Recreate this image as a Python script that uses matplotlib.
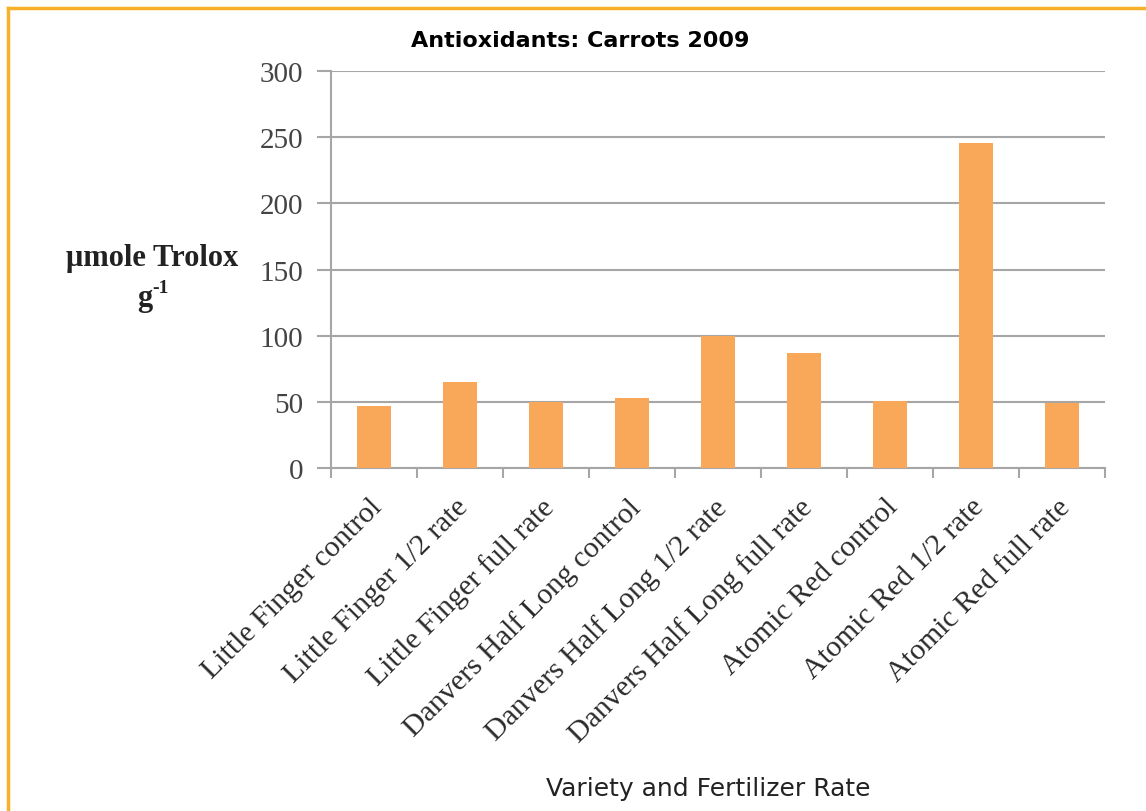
import numpy as np
import matplotlib.pyplot as plt
import matplotlib.transforms as mtransforms
from matplotlib.lines import Line2D

# data
categories = ['Little Finger control', 'Little Finger 1/2 rate', 'Little Finger full rate',
              'Danvers Half Long control', 'Danvers Half Long 1/2 rate', 'Danvers Half Long full rate',
              'Atomic Red control', 'Atomic Red 1/2 rate', 'Atomic Red full rate']
trolox = [47, 65, 50, 53, 100, 87, 51, 246, 49]
yticks = [0, 50, 100, 150, 200, 250, 300]

bar_color = '#F9A85A'
grid_color = '#A6A6A6'

fig = plt.figure(figsize=(11.46, 8.12), dpi=100)
ax = fig.add_axes([0.2888, 0.422, 0.6754, 0.4893])

x = np.arange(len(categories))
ax.bar(x, trolox, width=0.4, color=bar_color, zorder=3)

ax.set_xlim(-0.5, len(categories) - 0.5)
ax.set_ylim(0, 300)
ax.set_yticks(yticks)
ax.set_yticklabels([str(v) for v in yticks], family='Liberation Serif', fontsize=21, color='#444444')
ax.yaxis.grid(True, color=grid_color, linewidth=1.5, zorder=0)

# ticks at category boundaries, labels at centres
ax.set_xticks(np.arange(-0.5, len(categories)))
ax.set_xticklabels([])
ax.set_xticks(x, minor=True)
ax.set_xticklabels(categories, minor=True, rotation=45, ha='right', va='top',
                   rotation_mode='anchor', family='Liberation Serif', fontsize=21.5, color='#2a2a2a')
ax.tick_params(axis='x', which='minor', length=0, pad=18)
ax.tick_params(axis='x', which='major', length=7, width=1.5, color=grid_color, direction='out')
ax.tick_params(axis='y', length=10, width=1.5, color=grid_color, pad=10)

shift = mtransforms.ScaledTranslation(-0.05, 0, fig.dpi_scale_trans)
for lbl in ax.get_xticklabels(minor=True):
    lbl.set_transform(lbl.get_transform() + shift)

for s in ['top', 'right']:
    ax.spines[s].set_visible(False)
for s in ['left', 'bottom']:
    ax.spines[s].set_color(grid_color)
    ax.spines[s].set_linewidth(1.5)

# titles and labels
fig.text(0.506, 0.949, 'Antioxidants: Carrots 2009', ha='center', va='center',
         fontsize=16, fontweight='bold', family='DejaVu Sans')
fig.text(0.618, 0.028, 'Variety and Fertilizer Rate', ha='center', va='center',
         fontsize=18, family='DejaVu Sans', color='#222222')
fig.text(0.133, 0.682, 'μmole Trolox', ha='center', va='center',
         fontsize=22, fontweight='bold', family='Liberation Serif', color='#222222')
fig.text(0.126, 0.632, 'g', ha='center', va='center',
         fontsize=22, fontweight='bold', family='Liberation Serif', color='#222222')
fig.text(0.1325, 0.645, '-1', ha='left', va='center',
         fontsize=14, fontweight='bold', family='Liberation Serif', color='#222222')

# orange frame (top and left edges)
fig.add_artist(Line2D([0.0066, 0.0066], [0.0, 0.9895], color='#F7B12A', linewidth=2.5,
                      transform=fig.transFigure))
fig.add_artist(Line2D([0.0066, 1.0], [0.9895, 0.9895], color='#F7B12A', linewidth=2.5,
                      transform=fig.transFigure))

fig.savefig('out.png', dpi=100)
